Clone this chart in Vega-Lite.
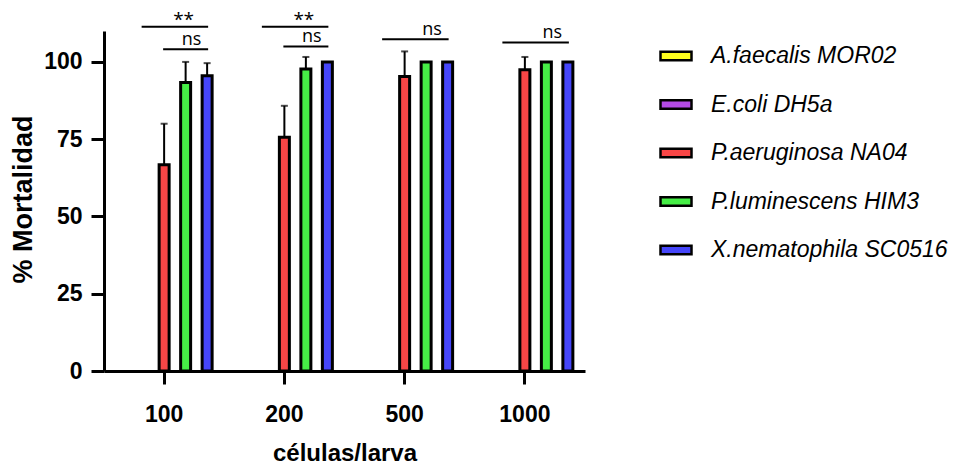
{
  "$schema": "https://vega.github.io/schema/vega-lite/v6.json",
  "width": 481,
  "height": 340,
  "autosize": {"type": "none"},
  "padding": {"left": 104, "top": 31, "right": 368, "bottom": 93},
  "background": "white",
  "config": {
    "view": {"stroke": null},
    "font": "Liberation Sans",
    "axis": {
      "domainColor": "black",
      "domainWidth": 3,
      "tickColor": "black",
      "tickWidth": 3,
      "tickSize": 13,
      "grid": false,
      "labelFont": "Liberation Sans",
      "labelFontWeight": "bold",
      "labelFontSize": 23,
      "labelColor": "black",
      "titleFont": "Liberation Sans",
      "titleFontWeight": "bold",
      "titleColor": "black"
    }
  },
  "datasets": {
    "mortalidad": [
      {"grupo": "100", "cepa": "P.aeruginosa NA04", "mortalidad": 66.7, "sup": 80.0},
      {"grupo": "100", "cepa": "P.luminescens HIM3", "mortalidad": 93.3, "sup": 100.0},
      {"grupo": "100", "cepa": "X.nematophila SC0516", "mortalidad": 95.5, "sup": 99.6},
      {"grupo": "200", "cepa": "P.aeruginosa NA04", "mortalidad": 75.6, "sup": 85.8},
      {"grupo": "200", "cepa": "P.luminescens HIM3", "mortalidad": 97.7, "sup": 101.6},
      {"grupo": "200", "cepa": "X.nematophila SC0516", "mortalidad": 100, "sup": null},
      {"grupo": "500", "cepa": "P.aeruginosa NA04", "mortalidad": 95.3, "sup": 103.4},
      {"grupo": "500", "cepa": "P.luminescens HIM3", "mortalidad": 100, "sup": null},
      {"grupo": "500", "cepa": "X.nematophila SC0516", "mortalidad": 100, "sup": null},
      {"grupo": "1000", "cepa": "P.aeruginosa NA04", "mortalidad": 97.5, "sup": 101.6},
      {"grupo": "1000", "cepa": "P.luminescens HIM3", "mortalidad": 100, "sup": null},
      {"grupo": "1000", "cepa": "X.nematophila SC0516", "mortalidad": 100, "sup": null}
    ],
    "comparaciones": [
      {"comp": "c1", "grupo": "100", "cepa": "E.coli DH5a", "nivel": 111.4},
      {"comp": "c1", "grupo": "100", "cepa": "X.nematophila SC0516", "nivel": 111.4},
      {"comp": "c2", "grupo": "100", "cepa": "P.aeruginosa NA04", "nivel": 104.1},
      {"comp": "c2", "grupo": "100", "cepa": "X.nematophila SC0516", "nivel": 104.1},
      {"comp": "c3", "grupo": "200", "cepa": "E.coli DH5a", "nivel": 111.4},
      {"comp": "c3", "grupo": "200", "cepa": "X.nematophila SC0516", "nivel": 111.4},
      {"comp": "c4", "grupo": "200", "cepa": "P.aeruginosa NA04", "nivel": 105.0},
      {"comp": "c4", "grupo": "200", "cepa": "X.nematophila SC0516", "nivel": 105.0},
      {"comp": "c5", "grupo": "500", "cepa": "E.coli DH5a", "nivel": 107.3},
      {"comp": "c5", "grupo": "500", "cepa": "X.nematophila SC0516", "nivel": 107.3},
      {"comp": "c6", "grupo": "1000", "cepa": "E.coli DH5a", "nivel": 106.3},
      {"comp": "c6", "grupo": "1000", "cepa": "X.nematophila SC0516", "nivel": 106.3}
    ],
    "etiquetas": [
      {"grupo": "100", "cepa": "P.luminescens HIM3", "nivel": 111.4, "texto": "**"},
      {"grupo": "100", "cepa": "P.luminescens HIM3", "nivel": 104.1, "texto": "ns"},
      {"grupo": "200", "cepa": "P.luminescens HIM3", "nivel": 111.4, "texto": "**"},
      {"grupo": "200", "cepa": "P.luminescens HIM3", "nivel": 105.0, "texto": "ns"},
      {"grupo": "500", "cepa": "P.luminescens HIM3", "nivel": 107.3, "texto": "ns"},
      {"grupo": "1000", "cepa": "P.luminescens HIM3", "nivel": 106.3, "texto": "ns"}
    ]
  },
  "encoding": {
    "x": {
      "field": "grupo",
      "type": "nominal",
      "scale": {"domain": ["100", "200", "500", "1000"], "paddingInner": 0, "paddingOuter": 0},
      "axis": {"labelAngle": 0, "labelPadding": 19, "titleFontSize": 24, "titleY": 89, "titleBaseline": "alphabetic"},
      "title": "células/larva"
    },
    "xOffset": {
      "field": "cepa",
      "type": "nominal",
      "scale": {
        "domain": ["A.faecalis MOR02", "E.coli DH5a", "P.aeruginosa NA04", "P.luminescens HIM3", "X.nematophila SC0516"],
        "paddingInner": 0.535,
        "paddingOuter": 0.564
      }
    }
  },
  "layer": [
    {
      "data": {"name": "mortalidad"},
      "mark": {"type": "bar", "stroke": "black", "strokeWidth": 3},
      "encoding": {
        "y": {
          "field": "mortalidad",
          "type": "quantitative",
          "scale": {"domain": [0, 110], "nice": false},
          "axis": {
            "values": [0, 25, 50, 75, 100],
            "labelPadding": 9,
            "titleFontSize": 27,
            "titleX": -73,
            "titleY": 168,
            "titleAngle": -90,
            "titleAlign": "center",
            "titleBaseline": "alphabetic"
          },
          "title": "% Mortalidad"
        },
        "color": {
          "field": "cepa",
          "type": "nominal",
          "scale": {
            "domain": ["A.faecalis MOR02", "E.coli DH5a", "P.aeruginosa NA04", "P.luminescens HIM3", "X.nematophila SC0516"],
            "range": ["#FFFF1E", "#B44BE6", "#F84646", "#46EE46", "#4646FA"]
          },
          "legend": {
            "orient": "none",
            "legendX": 555,
            "legendY": 8,
            "title": null,
            "padding": 0,
            "symbolType": "M-1,-0.27H1V0.27H-1Z",
            "symbolSize": 961,
            "symbolStrokeColor": "black",
            "symbolStrokeWidth": 2.5,
            "symbolOpacity": 1,
            "labelFont": "Liberation Sans",
            "labelFontStyle": "italic",
            "labelFontSize": 23,
            "labelColor": "black",
            "labelOffset": 18,
            "rowPadding": 19.5,
            "labelLimit": 400
          }
        }
      }
    },
    {
      "data": {"name": "mortalidad"},
      "transform": [{"filter": {"field": "sup", "valid": true}}],
      "mark": {"type": "rule", "color": "black", "strokeWidth": 2},
      "encoding": {
        "y": {"field": "mortalidad", "type": "quantitative"},
        "y2": {"field": "sup"}
      }
    },
    {
      "data": {"name": "mortalidad"},
      "transform": [{"filter": {"field": "sup", "valid": true}}],
      "mark": {"type": "tick", "orient": "horizontal", "size": 7, "thickness": 2, "color": "black"},
      "encoding": {
        "y": {"field": "sup", "type": "quantitative"}
      }
    },
    {
      "data": {"name": "comparaciones"},
      "mark": {"type": "line", "color": "black", "strokeWidth": 2, "strokeCap": "square"},
      "encoding": {
        "y": {"field": "nivel", "type": "quantitative"},
        "detail": {"field": "comp", "type": "nominal"}
      }
    },
    {
      "data": {"name": "etiquetas"},
      "transform": [{"filter": "datum.texto === '**'"}],
      "mark": {"type": "text", "font": "Open Sans", "fontSize": 19, "color": "black", "baseline": "alphabetic", "dy": -1, "dx": -2},
      "encoding": {
        "y": {"field": "nivel", "type": "quantitative"},
        "text": {"field": "texto"}
      }
    },
    {
      "data": {"name": "etiquetas"},
      "transform": [{"filter": "datum.texto === 'ns'"}],
      "mark": {"type": "text", "font": "Open Sans", "fontSize": 18, "color": "black", "baseline": "alphabetic", "dy": -4, "dx": 6},
      "encoding": {
        "y": {"field": "nivel", "type": "quantitative"},
        "text": {"field": "texto"}
      }
    }
  ]
}
